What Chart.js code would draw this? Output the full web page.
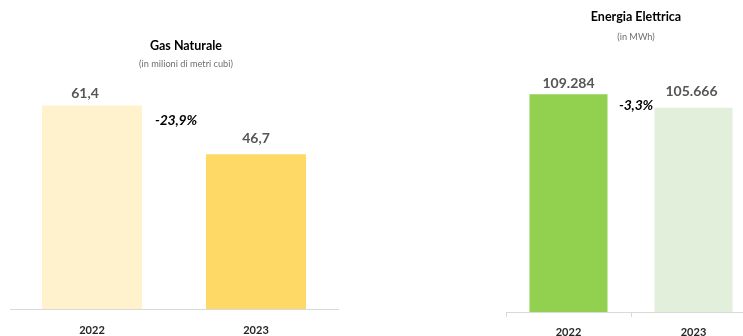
<!DOCTYPE html>
<html><head><meta charset="utf-8">
<script src="https://cdn.jsdelivr.net/npm/chart.js@4.4.0/dist/chart.umd.min.js"></script>
<style>
html,body{margin:0;padding:0;background:#fff;overflow:hidden;width:743px;height:336px;position:relative;}
#wrapA{position:absolute;left:0;top:0;width:370px;height:336px;}
#wrapB{position:absolute;left:500px;top:0;width:256px;height:336px;}
canvas{display:block;}
</style></head><body>
<div id="wrapA"><canvas id="gas" width="370" height="336"></canvas></div>
<div id="wrapB"><canvas id="ele" width="256" height="336"></canvas></div>
<script>
const categories = ['2022', '2023'];
const gasValues = [61.4, 46.7];          // milioni di metri cubi
const eleValues = [109284, 105666];      // MWh
const gasColors = ['#FFF2CC', '#FFD966'];
const eleColors = ['#92D050', '#E2EFDA'];
const gasTitle = 'Gas Naturale';
const gasSubtitle = '(in milioni di metri cubi)';
const eleTitle = 'Energia Elettrica';
const eleSubtitle = '(in MWh)';

function fmtDec(v) { return v.toFixed(1).replace('.', ','); }
function fmtThousands(v) { return String(Math.round(v)).replace(/\B(?=(\d{3})+(?!\d))/g, '.'); }
function pctChange(arr) {
  const p = (arr[1] - arr[0]) / arr[0] * 100;
  return (p < 0 ? '-' : '+') + Math.abs(p).toFixed(1).replace('.', ',') + '%';
}

const FONT = 'Lato, "Open Sans", sans-serif';

const annotPlugin = {
  id: 'annot',
  afterDatasetsDraw(chart, args, o) {
    const ctx = chart.ctx;
    const meta = chart.getDatasetMeta(0);
    const xs = chart.scales.x;
    ctx.save();
    // titles
    ctx.textAlign = 'center';
    ctx.textBaseline = 'middle';
    ctx.fillStyle = '#000';
    ctx.font = 'bold 12.5px ' + FONT;
    ctx.fillText(o.title, o.titleX, o.titleY);
    ctx.fillStyle = '#6F6F6F';
    ctx.font = o.subSize + 'px ' + FONT;
    ctx.fillText(o.subtitle, o.titleX, o.subY);
    // value labels
    ctx.fillStyle = '#555555';
    ctx.font = 'bold 14px ' + FONT;
    ctx.textBaseline = 'alphabetic';
    meta.data.forEach((bar, i) => {
      ctx.fillText(o.labels[i], bar.x + (o.labelDx[i] || 0), bar.y - o.labelGap[i]);
    });
    // change label
    const mid = (xs.getPixelForValue(0) + xs.getPixelForValue(1)) / 2;
    ctx.fillStyle = '#000';
    ctx.font = 'italic bold ' + o.changeSize + 'px ' + FONT;
    try { ctx.letterSpacing = o.changeSpacing; } catch (e) {}
    ctx.textBaseline = 'middle';
    ctx.fillText(o.change, mid + o.changeDx, o.changeY);
    ctx.restore();
  }
};

const tickFont = { family: FONT, size: 11, weight: 'bold' };

new Chart(document.getElementById('gas'), {
  type: 'bar',
  data: {
    labels: categories,
    datasets: [{ data: gasValues, backgroundColor: gasColors, borderWidth: 0,
      barPercentage: 1, categoryPercentage: 0.61 }]
  },
  options: {
    responsive: false, animation: false, devicePixelRatio: 1,
    layout: { padding: { left: 10, right: 32, top: 77, bottom: 0 } },
    plugins: {
      legend: { display: false }, tooltip: { enabled: false },
      annot: {
        title: gasTitle, subtitle: gasSubtitle, titleX: 186, titleY: 46, subY: 64, subSize: 9.2,
        labels: gasValues.map(fmtDec), labelDx: [-7, 0], labelGap: [8, 11],
        change: pctChange(gasValues), changeDx: 2, changeY: 120, changeSize: 14, changeSpacing: '-0.2px'
      }
    },
    scales: {
      x: {
        grid: { display: true, drawOnChartArea: false, drawTicks: false, offset: true },
        border: { display: true, color: '#D9D9D9', width: 1 },
        ticks: { font: tickFont, color: '#262626', padding: 15 },
        afterFit(s) { s.height = 27; }
      },
      y: { display: false, min: 0, max: 70 }
    }
  },
  plugins: [annotPlugin]
});

new Chart(document.getElementById('ele'), {
  type: 'bar',
  data: {
    labels: categories,
    datasets: [{ data: eleValues, backgroundColor: eleColors, borderWidth: 0,
      barPercentage: 1, categoryPercentage: 0.624 }]
  },
  options: {
    responsive: false, animation: false, devicePixelRatio: 1,
    layout: { padding: { left: 6, right: 0, top: 55, bottom: 0 } },
    plugins: {
      legend: { display: false }, tooltip: { enabled: false },
      annot: {
        title: eleTitle, subtitle: eleSubtitle, titleX: 136, titleY: 17, subY: 37, subSize: 9.2,
        labels: eleValues.map(fmtThousands), labelDx: [0, -2], labelGap: [6, 12],
        change: pctChange(eleValues), changeDx: 5, changeY: 105, changeSize: 14, changeSpacing: '-0.2px'
      }
    },
    scales: {
      x: {
        grid: { display: true, drawOnChartArea: false, drawTicks: true, tickLength: 5, offset: true, color: '#D9D9D9' },
        border: { display: true, color: '#D9D9D9', width: 1 },
        ticks: { font: tickFont, color: '#262626', padding: 9 },
        afterFit(s) { s.height = 24; }
      },
      y: { display: false, min: 50000, max: 120000 }
    }
  },
  plugins: [annotPlugin]
});
</script>
</body></html>
